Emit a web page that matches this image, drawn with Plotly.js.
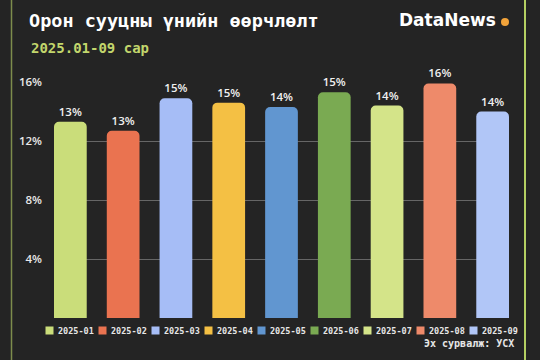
<!DOCTYPE html>
<html>
<head>
<meta charset="utf-8">
<script src="https://cdn.plot.ly/plotly-3.0.1.min.js"></script>
<style>
  html, body { margin: 0; padding: 0; background: #242424; }
  #chart { width: 540px; height: 360px; }
</style>
</head>
<body>
<div id="chart"></div>
<script>
// ---- data ----
const months = ["2025-01", "2025-02", "2025-03", "2025-04", "2025-05", "2025-06", "2025-07", "2025-08", "2025-09"];
const changePct = [13.3, 12.7, 14.9, 14.6, 14.3, 15.3, 14.4, 15.9, 14.0];
const barColors = ["#cadd7a", "#ea7350", "#a6bdf6", "#f4c044", "#6196d0", "#7aaa52", "#d4e489", "#ee8a6a", "#b1c6f7"];
const yTicks = [4, 8, 12, 16];
const yTickText = ["4%", "8%", "12%", "16%"];

const titleText = "Орон сууцны үнийн өөрчлөлт";
const subtitleText = "2025.01-09 сар";
const sourceText = "Эх сурвалж: УСХ";
const logoText = "DataNews";

// ---- geometry helpers (plot area in px) ----
const W = 540, H = 360;
const mL = 54, mR = 31, mT = 82, mB = 42;
const pw = W - mL - mR, ph = H - mT - mB;
const px = x => (x - mL) / pw;
const py = y => (H - mB - y) / ph;

const trace = {
  type: "bar",
  x: months,
  y: changePct,
  marker: { color: barColors, cornerradius: 5 },
  width: 0.62,
  texttemplate: "%{y:.0f}%",
  textposition: "outside",
  cliponaxis: false,
  textfont: { family: "Open Sans", size: 11.5, color: "#f0f0f0", weight: 600 },
  hoverinfo: "skip",
  showlegend: false
};

const annotations = [
  { text: subtitleText, xref: "paper", yref: "paper", x: px(29), y: py(47.5), xanchor: "left", yanchor: "middle",
    showarrow: false, font: { family: "DejaVu Sans Mono", size: 14, color: "#c2d66c", weight: 700 } },
  { text: logoText, xref: "paper", yref: "paper", x: px(498), y: py(20), xanchor: "right", yanchor: "middle",
    showarrow: false, font: { family: "DejaVu Sans", size: 17, color: "#ffffff", weight: 700 } },
  { text: sourceText, xref: "paper", yref: "paper", x: px(516), y: py(343), xanchor: "right", yanchor: "middle",
    showarrow: false, font: { family: "DejaVu Sans Mono", size: 10, color: "#e6e6e6", weight: 700 } }
];

const shapes = [
  // frame lines
  { type: "line", xref: "paper", yref: "paper", x0: px(11.5), x1: px(11.5), y0: py(0), y1: py(360),
    line: { color: "#7d8c4c", width: 1.5 } },
  { type: "line", xref: "paper", yref: "paper", x0: px(525), x1: px(525), y0: py(0), y1: py(360),
    line: { color: "#b4cf62", width: 2 } },
  // logo dot
  { type: "circle", xref: "paper", yref: "paper", x0: px(501), x1: px(509), y0: py(18), y1: py(26),
    fillcolor: "#f2a33a", line: { width: 0 } }
];

// custom legend
months.forEach((m, i) => {
  const cx = 49.5 + 53 * i;
  const cy = 330.5;
  shapes.push({ type: "rect", xref: "paper", yref: "paper",
    x0: px(cx - 4), x1: px(cx + 4), y0: py(cy - 4), y1: py(cy + 4),
    fillcolor: barColors[i], line: { width: 0 } });
  annotations.push({ text: m, xref: "paper", yref: "paper", x: px(cx + 6), y: py(cy),
    xanchor: "left", yanchor: "middle", showarrow: false,
    font: { family: "DejaVu Sans Mono", size: 8.5, color: "#e6e6e6", weight: 700 } });
});

const layout = {
  width: W, height: H,
  margin: { l: mL, r: mR, t: mT, b: mB, pad: 0 },
  paper_bgcolor: "#242424",
  plot_bgcolor: "#242424",
  title: {
    text: titleText,
    xref: "container", yref: "container",
    x: 29 / W, xanchor: "left",
    y: 1 - 21 / H, yanchor: "middle",
    font: { family: "DejaVu Sans Mono", size: 18.5, color: "#ffffff", weight: 700 }
  },
  xaxis: {
    type: "category",
    range: [-0.31, 8.31],
    showticklabels: false,
    showgrid: false,
    zeroline: false,
    showline: false,
    ticks: ""
  },
  yaxis: {
    range: [0, 16],
    tickvals: yTicks,
    ticktext: yTickText,
    showgrid: true,
    gridcolor: "#666666",
    gridwidth: 1,
    zeroline: false,
    showline: false,
    ticks: "",
    ticklabelstandoff: 11,
    tickfont: { family: "Open Sans", size: 11.5, color: "#e8e8e8", weight: 600 }
  },
  shapes: shapes,
  annotations: annotations,
  showlegend: false
};

Plotly.newPlot("chart", [trace], layout, { displayModeBar: false, staticPlot: true });
</script>
</body>
</html>
